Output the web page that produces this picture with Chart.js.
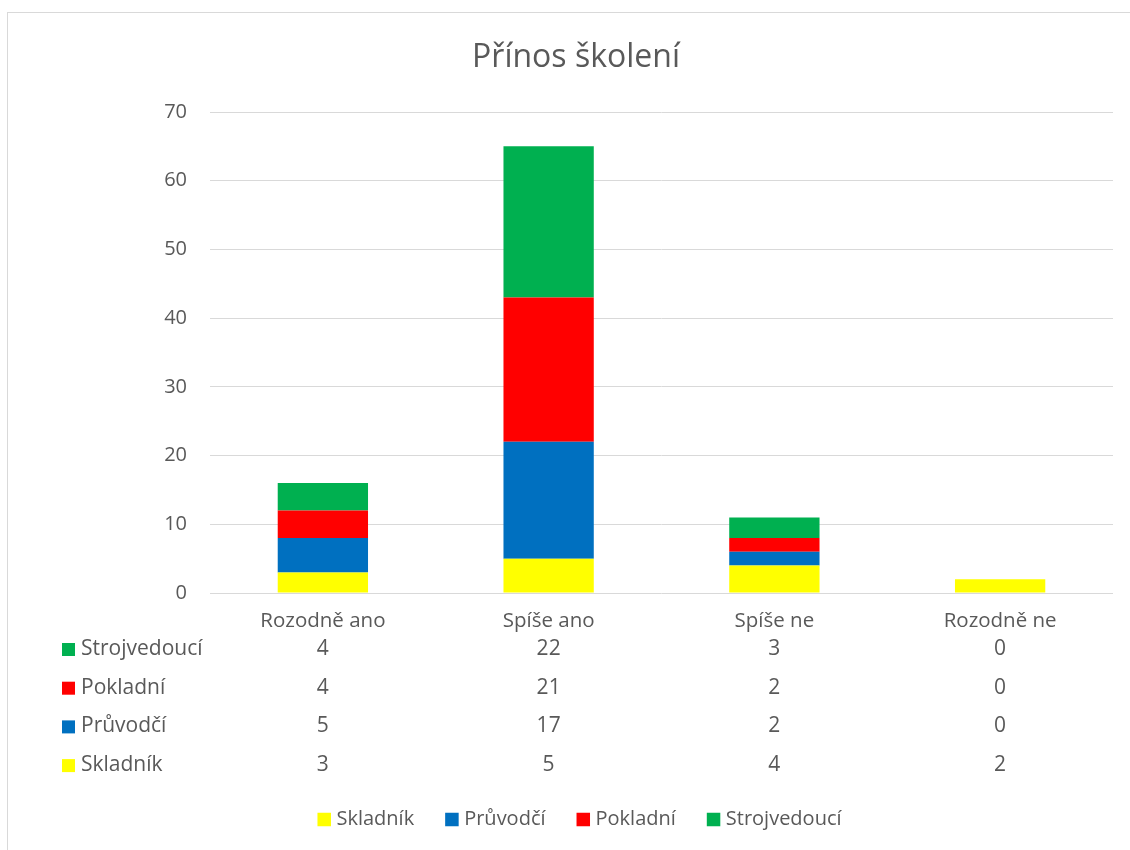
<!DOCTYPE html>
<html>
<head>
<meta charset="utf-8">
<script src="https://cdn.jsdelivr.net/npm/chart.js@4.4.1/dist/chart.umd.min.js"></script>
<style>
  html, body { margin: 0; padding: 0; background: #ffffff; overflow: hidden; }
  #wrap { position: relative; width: 1130px; height: 850px; }
  #frame { position: absolute; left: 7px; top: 12px; width: 1200px; height: 900px; border: 1px solid #d9d9d9; box-sizing: border-box; }
  canvas { position: absolute; left: 0; top: 0; }
</style>
</head>
<body>
<div id="wrap">
  <div id="frame"></div>
  <canvas id="c" width="1130" height="850"></canvas>
</div>
<script>
const chartTitle = 'Přínos školení';
const categories = ['Rozodně ano', 'Spíše ano', 'Spíše ne', 'Rozodně ne'];
const skladnik = [3, 5, 4, 2];
const pruvodci = [5, 17, 2, 0];
const pokladni = [4, 21, 2, 0];
const strojvedouci = [4, 22, 3, 0];
const seriesNames = ['Skladník', 'Průvodčí', 'Pokladní', 'Strojvedoucí'];
const seriesColors = ['#FFFF00', '#0070C0', '#FF0000', '#00B050'];
const yTicks = [0, 10, 20, 30, 40, 50, 60, 70];

const FONT = '"Open Sans", "Noto Sans", sans-serif';
const TEXT = '#595959';

const tablePlugin = {
  id: 'tableAndLegend',
  afterDraw(chart) {
    const ctx = chart.ctx;
    const xs = chart.scales.x;
    const area = chart.chartArea;
    ctx.save();
    // title
    ctx.font = '32px ' + FONT;
    ctx.fillStyle = TEXT;
    ctx.textAlign = 'center';
    ctx.textBaseline = 'middle';
    ctx.fillText(chartTitle, 576, 58);

    // data table rows: top row is last dataset
    ctx.font = '21px ' + FONT;
    const rowStart = area.bottom + 56;
    const rowStep = 38.7;
    const dsCount = chart.data.datasets.length;
    for (let r = 0; r < dsCount; r++) {
      const ds = chart.data.datasets[dsCount - 1 - r];
      const y = rowStart + r * rowStep;
      ctx.fillStyle = ds.backgroundColor;
      ctx.fillRect(62, y - 6, 13, 13);
      ctx.fillStyle = TEXT;
      ctx.textAlign = 'left';
      ctx.fillText(ds.label, 81, y);
      ctx.textAlign = 'center';
      ds.data.forEach((v, i) => {
        ctx.fillText(String(v), xs.getPixelForValue(i), y);
      });
    }
    // legend
    ctx.font = '20px ' + FONT;
    const ly = 819.5;
    const box = 13.5, gapText = 5.5, gapItem = 31;
    const widths = chart.data.datasets.map(d => ctx.measureText(d.label).width);
    let total = 0;
    widths.forEach((w, i) => { total += box + gapText + w + (i < widths.length - 1 ? gapItem : 0); });
    let x = 579.5 - total / 2;
    chart.data.datasets.forEach((d, i) => {
      ctx.fillStyle = d.backgroundColor;
      ctx.fillRect(x, ly - box / 2, box, box);
      ctx.fillStyle = TEXT;
      ctx.textAlign = 'left';
      ctx.fillText(d.label, x + box + gapText, ly);
      x += box + gapText + widths[i] + gapItem;
    });
    ctx.restore();
  }
};

const seriesData = [skladnik, pruvodci, pokladni, strojvedouci];

new Chart(document.getElementById('c'), {
  type: 'bar',
  data: {
    labels: categories,
    datasets: seriesNames.map((n, i) => ({
      label: n,
      data: seriesData[i],
      backgroundColor: seriesColors[i],
      borderWidth: 0,
      categoryPercentage: 1.0,
      barPercentage: 0.4
    }))
  },
  options: {
    responsive: false,
    animation: false,
    layout: { padding: { left: 0, right: 17, top: 112, bottom: 0 } },
    plugins: {
      legend: { display: false },
      tooltip: { enabled: false },
      title: { display: false }
    },
    scales: {
      x: {
        stacked: true,
        grid: { display: false },
        border: { display: false },
        ticks: { color: TEXT, font: { family: FONT, size: 20.5 }, padding: 8, maxRotation: 0 },
        afterFit(scale) { scale.height = 257; }
      },
      y: {
        stacked: true,
        min: 0,
        max: 70,
        afterBuildTicks(scale) { scale.ticks = yTicks.map(v => ({ value: v })); },
        grid: { color: '#d9d9d9', lineWidth: 1, drawTicks: false },
        border: { display: false },
        ticks: { color: TEXT, font: { family: FONT, size: 20 }, padding: 23 },
        afterFit(scale) { scale.width = 210; }
      }
    }
  },
  plugins: [tablePlugin]
});
</script>
</body>
</html>
